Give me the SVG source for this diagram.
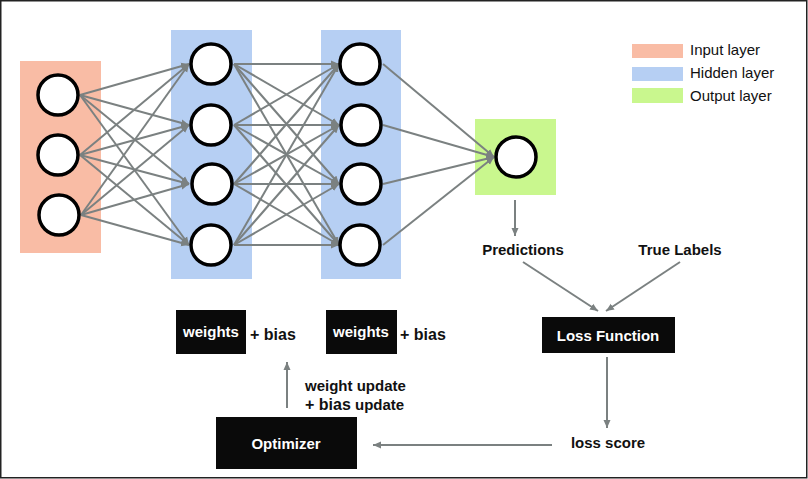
<svg xmlns="http://www.w3.org/2000/svg" width="808" height="479" viewBox="0 0 808 479">
<style>
.n{fill:#fff;stroke:#000;stroke-width:3.5}
.c line{stroke:#7b8181;stroke-width:2;marker-end:url(#ah)}
.lg{font-family:"Liberation Sans",Arial,sans-serif;font-size:15px;fill:#111}
.b{font-family:"Liberation Sans",Arial,sans-serif;font-weight:bold;fill:#111}
.w{font-family:"Liberation Sans",Arial,sans-serif;font-weight:bold;fill:#fff}
</style>
<defs>
<marker id="ah" markerUnits="userSpaceOnUse" markerWidth="9" markerHeight="8" refX="8" refY="4" orient="auto">
<path d="M0,0.5 L8,4 L0,7.5 z" fill="#7b8181"/>
</marker>
</defs>
<rect x="0.75" y="0.75" width="806" height="477" fill="#fff" stroke="#222" stroke-width="1.5"/>
<g id="layers">
<rect x="20" y="61" width="81" height="192" fill="#f9bca5"/>
<rect x="171" y="30" width="81" height="249" fill="#b6cff3"/>
<rect x="321" y="30" width="80" height="249" fill="#b6cff3"/>
<rect x="475" y="119" width="81" height="76" fill="#c9f78e"/>
</g>
<g id="legend">
<rect x="632" y="44" width="51" height="14" fill="#f9bca5"/>
<rect x="632" y="67" width="51" height="14" fill="#b6cff3"/>
<rect x="632" y="88" width="51" height="15" fill="#c9f78e"/>
<text class="lg" x="690" y="55">Input layer</text>
<text class="lg" x="690" y="78">Hidden layer</text>
<text class="lg" x="690" y="101">Output layer</text>
</g>
<g class="c" id="connectors">
<line x1="80" y1="95" x2="189" y2="64"/><line x1="80" y1="95" x2="189" y2="125"/><line x1="80" y1="95" x2="189" y2="184"/><line x1="80" y1="95" x2="189" y2="245"/>
<line x1="80" y1="155" x2="189" y2="64"/><line x1="80" y1="155" x2="189" y2="125"/><line x1="80" y1="155" x2="189" y2="184"/><line x1="80" y1="155" x2="189" y2="245"/>
<line x1="81" y1="215" x2="189" y2="64"/><line x1="81" y1="215" x2="189" y2="125"/><line x1="81" y1="215" x2="189" y2="184"/><line x1="81" y1="215" x2="189" y2="245"/>
<line x1="234" y1="64" x2="339" y2="64"/><line x1="234" y1="64" x2="339" y2="125"/><line x1="234" y1="64" x2="339" y2="184"/><line x1="234" y1="64" x2="339" y2="245"/>
<line x1="234" y1="125" x2="339" y2="64"/><line x1="234" y1="125" x2="339" y2="125"/><line x1="234" y1="125" x2="339" y2="184"/><line x1="234" y1="125" x2="339" y2="245"/>
<line x1="234" y1="184" x2="339" y2="64"/><line x1="234" y1="184" x2="339" y2="125"/><line x1="234" y1="184" x2="339" y2="184"/><line x1="234" y1="184" x2="339" y2="245"/>
<line x1="234" y1="245" x2="339" y2="64"/><line x1="234" y1="245" x2="339" y2="125"/><line x1="234" y1="245" x2="339" y2="184"/><line x1="234" y1="245" x2="339" y2="245"/>
<line x1="383" y1="64" x2="494" y2="157"/><line x1="383" y1="125" x2="494" y2="157"/><line x1="383" y1="184" x2="494" y2="157"/><line x1="383" y1="245" x2="494" y2="157"/>
<line x1="515" y1="200" x2="515" y2="236"/>
<line x1="523" y1="262" x2="598" y2="311"/>
<line x1="680" y1="262" x2="606" y2="311"/>
<line x1="607" y1="357" x2="607" y2="428"/>
<line x1="552" y1="445" x2="373" y2="445"/>
<line x1="287" y1="408" x2="287" y2="362"/>
</g>
<g id="input">
<circle class="n" cx="58" cy="95" r="20"/><circle class="n" cx="58" cy="155" r="20"/><circle class="n" cx="59" cy="215" r="20"/>
</g>
<g id="hidden1">
<circle class="n" cx="211" cy="64" r="20"/><circle class="n" cx="211" cy="125" r="20"/><circle class="n" cx="212" cy="184" r="20"/><circle class="n" cx="211" cy="245" r="20"/>
</g>
<g id="hidden2">
<circle class="n" cx="360" cy="64" r="20"/><circle class="n" cx="361" cy="125" r="20"/><circle class="n" cx="361" cy="184" r="20"/><circle class="n" cx="360" cy="245" r="20"/>
</g>
<g id="output">
<circle class="n" cx="516" cy="157" r="20"/>
</g>
<g id="predictions"><text class="b" x="523" y="255" font-size="15" text-anchor="middle">Predictions</text></g>
<g id="truelabels"><text class="b" x="680" y="255" font-size="15" text-anchor="middle">True Labels</text></g>
<g id="loss">
<rect x="542" y="317" width="133" height="36" fill="#0a0a0a"/>
<text class="w" x="608" y="341" font-size="15" text-anchor="middle">Loss Function</text>
</g>
<g id="lossscore"><text class="b" x="608" y="448" font-size="15" text-anchor="middle">loss score</text></g>
<g id="optimizer">
<rect x="216" y="417" width="141" height="52" fill="#0a0a0a"/>
<text class="w" x="286" y="449" font-size="15" text-anchor="middle">Optimizer</text>
</g>
<g id="update">
<text class="b" x="305" y="391" font-size="15">weight update</text>
<text class="b" x="305" y="410" font-size="15"><tspan font-size="16">+ bias</tspan> update</text>
</g>
<g id="weights1">
<rect x="176" y="310" width="70" height="44" fill="#0a0a0a"/>
<text class="w" x="211" y="337" font-size="15" text-anchor="middle">weights</text>
<text class="b" x="250" y="340" font-size="16">+ bias</text>
</g>
<g id="weights2">
<rect x="326" y="310" width="71" height="44" fill="#0a0a0a"/>
<text class="w" x="361" y="337" font-size="15" text-anchor="middle">weights</text>
<text class="b" x="400" y="340" font-size="16">+ bias</text>
</g>
</svg>
